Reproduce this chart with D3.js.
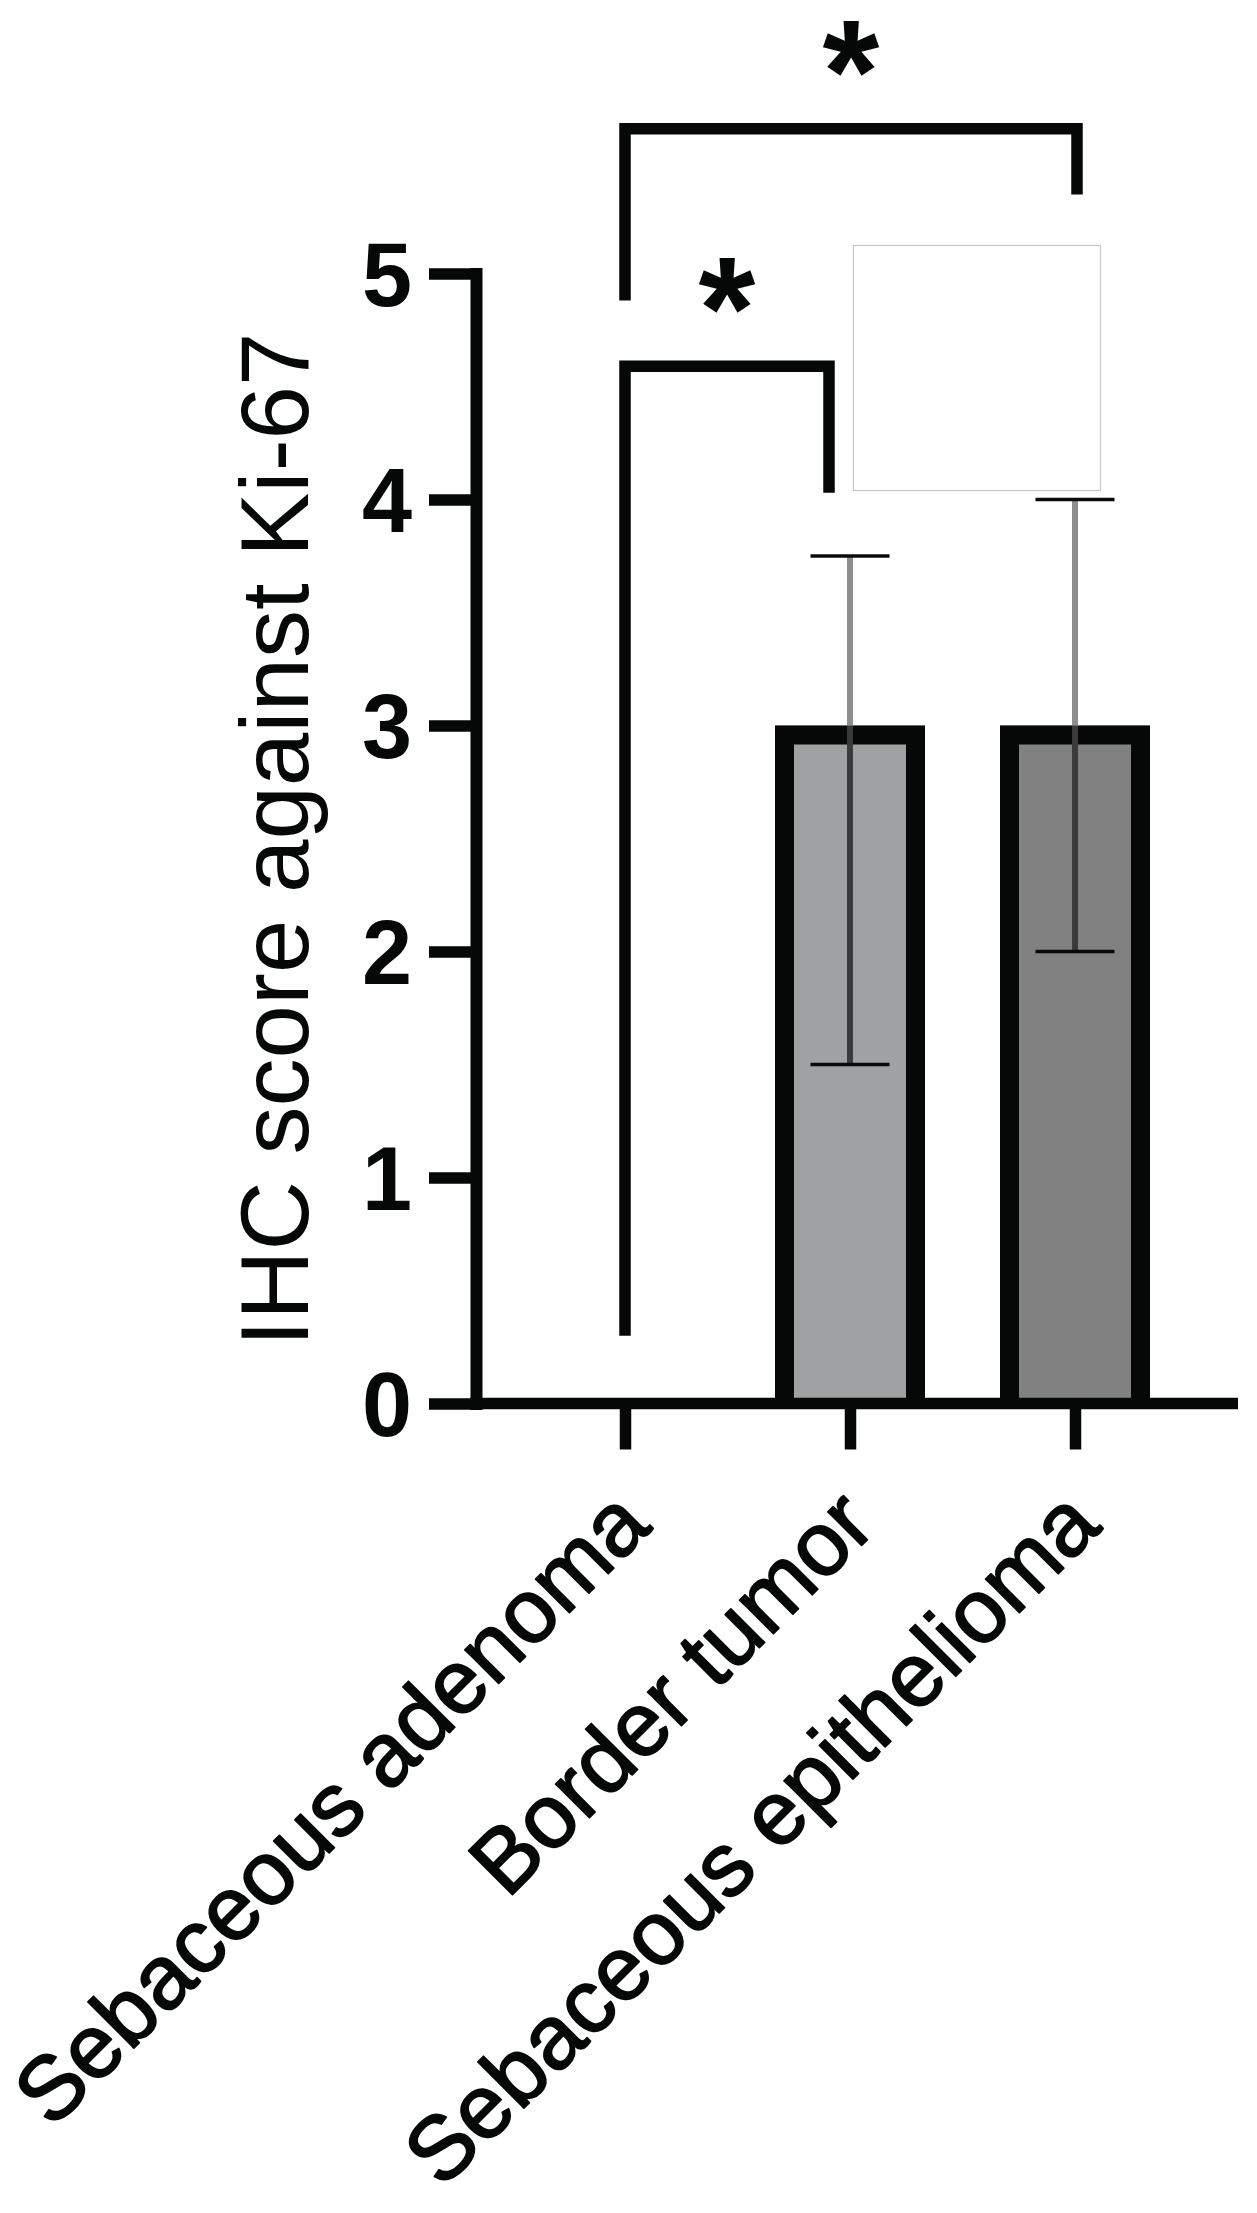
<!DOCTYPE html>
<html>
<head>
<meta charset="utf-8">
<script src="https://cdn.jsdelivr.net/npm/d3@7"></script>
<style>
  html, body { margin: 0; padding: 0; background: #ffffff; }
  svg { display: block; }
</style>
</head>
<body>
<script>
// ---------------- data ----------------
const categories = ["Sebaceous adenoma", "Border tumor", "Sebaceous epithelioma"];
const means      = [0, 3, 3];
const errLow     = [0, 1.5, 2];
const errHigh    = [0, 3.75, 4];
const yTicks     = [0, 1, 2, 3, 4, 5];
const yLabel     = "IHC score against Ki-67";
// significance brackets: pairs of category indices, bracket height, leg ends, label
const sigPairs    = [[0, 1], [0, 2]];
const sigHeight   = [4.59, 5.64];
const sigLeftEnd  = [0.30, 4.88];
const sigRightEnd = [4.03, 5.35];
const sigLabels   = ["*", "*"];

// ---------------- layout / style ----------------
const W = 1257, H = 2213;
const axisX = 476, axisRight = 1238;
const fills = ["#ffffff", "#a0a1a3", "#818181"];
const barW = 150, barStroke = 19;
const lineW = 11.5;
const bracketRightShift = [-21, 2];
const font = "'Liberation Sans', Arial, Helvetica, sans-serif";
const ink = "#050807";

const svg = d3.select("body").append("svg")
  .attr("width", W).attr("height", H)
  .attr("viewBox", `0 0 ${W} ${H}`);

const x = d3.scalePoint().domain(categories).range([625, 1075]);
const y = d3.scaleLinear().domain([0, 5]).range([1403.5, 273.5]);

// ---------------- significance brackets ----------------
const gSig = svg.append("g");
sigPairs.forEach((p, i) => {
  const x1 = x(categories[p[0]]);
  const x2 = x(categories[p[1]]) + bracketRightShift[i];
  const yh = y(sigHeight[i]);
  gSig.append("path")
    .attr("d", `M${x1},${y(sigLeftEnd[i])}V${yh}H${x2}V${y(sigRightEnd[i])}`)
    .attr("fill", "none").attr("stroke", ink)
    .attr("stroke-width", lineW).attr("stroke-linejoin", "miter");
  gSig.append("text")
    .attr("x", (x1 + x2) / 2)
    .attr("y", yh - 77)
    .attr("dy", "0.48em")
    .attr("text-anchor", "middle")
    .attr("font-family", font).attr("font-weight", "bold")
    .attr("font-size", 146)
    .attr("fill", ink)
    .text(sigLabels[i]);
});

// leftover empty legend frame
svg.append("rect")
  .attr("x", 853.5).attr("y", 245.5).attr("width", 247).attr("height", 245)
  .attr("fill", "#ffffff").attr("stroke", "#c8c8c8").attr("stroke-width", 1.2);

// ---------------- bars ----------------
const gBars = svg.append("g");
categories.forEach((c, i) => {
  if (means[i] <= 0) return;
  const cx = x(c);
  const top = y(means[i]), bot = y(0);
  gBars.append("rect")
    .attr("x", cx - barW / 2).attr("y", top)
    .attr("width", barW).attr("height", bot - top)
    .attr("fill", fills[i]);
  const h = barStroke / 2;
  gBars.append("path")
    .attr("d", `M${cx - barW / 2 + h},${bot}V${top + h}H${cx + barW / 2 - h}V${bot}`)
    .attr("fill", "none").attr("stroke", ink)
    .attr("stroke-width", barStroke).attr("stroke-linejoin", "miter");
});

// ---------------- error bars ----------------
const gErr = svg.append("g");
categories.forEach((c, i) => {
  if (errHigh[i] === errLow[i]) return;
  const cx = x(c);
  gErr.append("line")
    .attr("x1", cx).attr("x2", cx)
    .attr("y1", y(errLow[i])).attr("y2", y(Math.min(errHigh[i], means[i])))
    .attr("stroke", "#3a3a3a").attr("stroke-width", 6);
  gErr.append("line")
    .attr("x1", cx).attr("x2", cx)
    .attr("y1", y(means[i])).attr("y2", y(errHigh[i]))
    .attr("stroke", "#8e8e8e").attr("stroke-width", 6);
  [errLow[i], errHigh[i]].forEach(v => {
    gErr.append("line")
      .attr("x1", cx - 39.5).attr("x2", cx + 39.5)
      .attr("y1", y(v)).attr("y2", y(v))
      .attr("stroke", "#0a0a0a").attr("stroke-width", 3.6);
  });
});

// ---------------- axes ----------------
const yAxis = d3.axisLeft(y).tickValues(yTicks).tickFormat(d3.format("d"))
  .tickSize(47).tickSizeOuter(0).tickPadding(17);
const gy = svg.append("g").attr("transform", `translate(${axisX},0)`).call(yAxis);
gy.select(".domain").attr("stroke", ink).attr("stroke-width", 12)
  .attr("stroke-linecap", "square");
gy.selectAll(".tick line").attr("stroke", ink).attr("stroke-width", lineW);
gy.selectAll(".tick text")
  .attr("font-family", font).attr("font-weight", "bold")
  .attr("font-size", 90).attr("fill", ink)
  .attr("dy", "0.36em");

// x axis baseline
svg.append("line")
  .attr("x1", axisX - 6).attr("x2", axisRight)
  .attr("y1", y(0)).attr("y2", y(0))
  .attr("stroke", ink).attr("stroke-width", lineW);

const xAxis = d3.axisBottom(x).tickSize(46).tickSizeOuter(0).tickPadding(0);
const gx = svg.append("g").attr("transform", `translate(0,${y(0)})`).call(xAxis);
gx.select(".domain").remove();
gx.selectAll(".tick line").attr("stroke", ink).attr("stroke-width", lineW);
gx.selectAll(".tick text")
  .attr("x", 0).attr("y", 0).attr("dy", 0)
  .attr("transform", "translate(28,125) rotate(-45)")
  .attr("text-anchor", "end")
  .attr("font-family", font)
  .attr("font-size", 90).attr("fill", ink)
  .attr("stroke", ink).attr("stroke-width", 1.8).attr("stroke-linejoin", "round");

// y axis title
svg.append("text")
  .attr("transform", `translate(308,${(327 + 1352) / 2}) rotate(-90)`)
  .attr("text-anchor", "middle")
  .attr("font-family", font)
  .attr("font-size", 96).attr("fill", ink)
  .text(yLabel);
</script>
</body>
</html>
